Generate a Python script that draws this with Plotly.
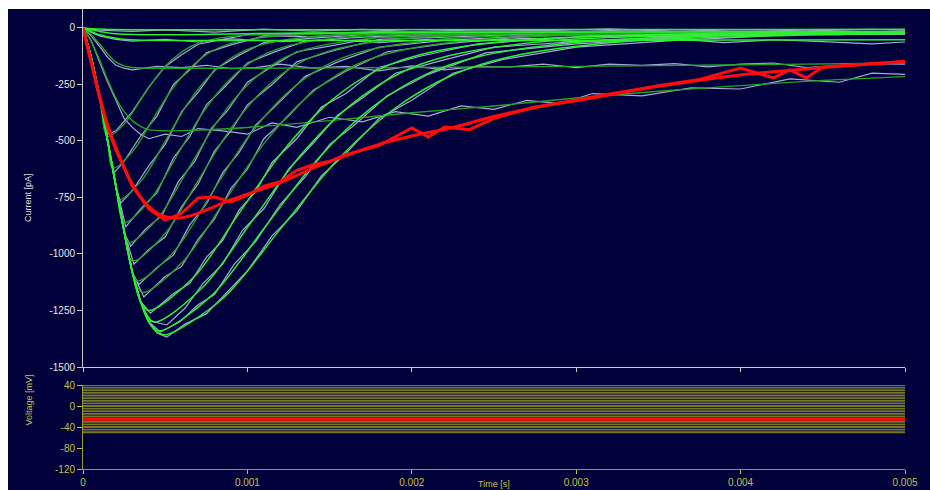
import plotly.graph_objects as go

# ---------------- current traces (time in ms, current in pA) ----------------
# fitted curves
b1_t = [0, 0.05, 0.10, 0.15, 0.25, 0.35, 0.45, 0.55, 0.65, 0.75, 0.95, 1.35, 5.0]
b1_i = [0, -130, -300, -480, -425, -319, -213, -135, -84, -57, -34, -22, -18]
b2_t = [0, 0.05, 0.10, 0.15, 0.18, 0.30, 0.42, 0.54, 0.66, 0.78, 0.90, 1.14, 1.62, 5.0]
b2_i = [0, -130, -300, -500, -620, -548, -410, -272, -170, -104, -68, -38, -23, -18]
b3_t = [0, 0.05, 0.10, 0.15, 0.20, 0.22, 0.36, 0.50, 0.64, 0.78, 0.92, 1.06, 1.34, 1.90, 5.0]
b3_i = [0, -130, -300, -500, -700, -760, -671, -501, -331, -205, -124, -79, -42, -24, -18]
b4_t = [0, 0.05, 0.10, 0.15, 0.20, 0.25, 0.41, 0.57, 0.73, 0.89, 1.05, 1.21, 1.53, 2.17, 5.0]
b4_i = [0, -130, -300, -500, -700, -860, -759, -566, -373, -230, -138, -87, -45, -24, -18]
b5_t = [0, 0.05, 0.10, 0.15, 0.20, 0.25, 0.28, 0.46, 0.64, 0.82, 1.00, 1.18, 1.36, 1.72, 2.44, 5.0]
b5_i = [0, -130, -300, -500, -700, -900, -950, -838, -624, -411, -252, -150, -94, -48, -25, -18]
b6_t = [0, 0.05, 0.10, 0.15, 0.20, 0.25, 0.30, 0.50, 0.70, 0.90, 1.10, 1.30, 1.50, 1.90, 2.70, 5.0]
b6_i = [0, -130, -300, -500, -700, -900, -1030, -909, -676, -444, -272, -161, -101, -50, -25, -18]
b7_t = [0, 0.05, 0.10, 0.15, 0.20, 0.25, 0.30, 0.33, 0.555, 0.78, 1.005, 1.23, 1.455, 1.68, 2.13, 3.03, 5.0]
b7_i = [0, -130, -300, -500, -700, -900, -1080, -1120, -988, -735, -482, -295, -174, -108, -53, -26, -18]
b8_t = [0, 0.05, 0.10, 0.15, 0.20, 0.25, 0.30, 0.36, 0.61, 0.86, 1.11, 1.36, 1.61, 1.86, 2.36, 3.36, 5.0]
b8_i = [0, -130, -300, -500, -700, -900, -1080, -1170, -1032, -767, -503, -307, -181, -112, -54, -26, -18]
b9_t = [0, 0.05, 0.10, 0.15, 0.20, 0.25, 0.30, 0.35, 0.40, 0.675, 0.95, 1.225, 1.50, 1.775, 2.05, 2.60, 3.70, 5.0]
b9_i = [0, -130, -300, -500, -700, -900, -1080, -1210, -1250, -1102, -819, -537, -327, -192, -118, -57, -26, -18]
b10_t = [0, 0.05, 0.10, 0.15, 0.20, 0.25, 0.30, 0.35, 0.43, 0.73, 1.03, 1.33, 1.63, 1.93, 2.23, 2.83, 4.03, 5.0]
b10_i = [0, -130, -300, -500, -700, -900, -1080, -1210, -1300, -1146, -852, -558, -340, -199, -122, -58, -26, -20]
b11_t = [0, 0.05, 0.10, 0.15, 0.20, 0.25, 0.30, 0.35, 0.40, 0.46, 0.785, 1.11, 1.435, 1.76, 2.085, 2.41, 3.06, 4.36, 5.0]
b11_i = [0, -130, -300, -500, -700, -900, -1080, -1210, -1300, -1340, -1182, -878, -574, -350, -205, -126, -60, -27, -22]
b12_t = [0, 0.05, 0.10, 0.15, 0.20, 0.25, 0.30, 0.35, 0.40, 0.45, 0.50, 0.85, 1.20, 1.55, 1.90, 2.25, 2.60, 3.30, 4.70, 5.0]
b12_i = [0, -130, -300, -500, -700, -900, -1080, -1210, -1300, -1345, -1358, -1197, -890, -582, -354, -207, -127, -60, -27, -25]
f1_t = [0, 0.1, 0.3, 1.0, 5.0]
f1_i = [0, -5, -8, -8, -6]
f2_t = [0, 0.1, 0.2, 0.5, 1.0, 2.0, 5.0]
f2_i = [0, -15, -25, -30, -25, -20, -15]
f3_t = [0, 0.05, 0.10, 0.20, 0.30, 0.50, 1.0, 2.0, 3.0, 4.0, 5.0]
f3_i = [0, -15, -30, -45, -52, -55, -55, -55, -55, -53, -52]
f4_t = [0, 0.05, 0.10, 0.15, 0.20, 0.25, 0.30, 0.40, 0.60, 1.0, 2.0, 3.0, 4.0, 5.0]
f4_i = [0, -30, -70, -115, -150, -168, -175, -178, -178, -178, -175, -170, -163, -155]
f5_t = [0, 0.05, 0.10, 0.15, 0.20, 0.25, 0.30, 0.35, 0.40, 0.50, 0.70, 1.0, 1.5, 2.0, 2.5, 3.0, 3.5, 4.0, 4.5, 5.0]
f5_i = [0, -60, -140, -230, -310, -370, -410, -435, -450, -455, -452, -440, -410, -375, -345, -310, -280, -255, -232, -215]

# recorded sweeps
d1_t = [0, 0.05, 0.10, 0.15, 0.20, 0.30, 0.40, 0.50, 0.60, 0.70, 0.85, 1.0, 1.3, 1.8, 2.5, 3.2, 4.0, 5.0]
d1_i = [0, -125, -310, -470, -455, -370, -262, -170, -118, -72, -50, -30, -30, -15, -28, -12, -22, -15]
d2_t = [0, 0.05, 0.10, 0.15, 0.19, 0.25, 0.35, 0.45, 0.55, 0.65, 0.75, 0.90, 1.10, 1.40, 1.80, 2.50, 3.50, 5.0]
d2_i = [0, -135, -295, -510, -640, -590, -478, -390, -250, -185, -110, -75, -35, -38, -18, -30, -15, -20]
d3_t = [0, 0.05, 0.10, 0.15, 0.20, 0.23, 0.30, 0.40, 0.50, 0.60, 0.70, 0.80, 0.95, 1.10, 1.40, 1.90, 2.60, 3.50, 5.0]
d3_i = [0, -128, -305, -495, -705, -775, -720, -610, -515, -370, -285, -185, -120, -65, -45, -20, -32, -15, -22]
d4_t = [0, 0.05, 0.10, 0.15, 0.20, 0.26, 0.35, 0.45, 0.55, 0.65, 0.75, 0.85, 1.00, 1.15, 1.35, 1.70, 2.30, 3.20, 4.2, 5.0]
d4_i = [0, -132, -298, -505, -695, -880, -800, -730, -575, -480, -340, -270, -155, -110, -58, -40, -22, -35, -15, -20]
d5_t = [0, 0.05, 0.10, 0.15, 0.20, 0.25, 0.29, 0.38, 0.48, 0.58, 0.68, 0.78, 0.88, 1.00, 1.15, 1.30, 1.50, 1.80, 2.40, 3.20, 4.20, 5.0]
d5_i = [0, -130, -302, -498, -702, -905, -965, -890, -830, -680, -590, -445, -365, -240, -170, -105, -80, -40, -30, -20, -30, -18]
d6_t = [0, 0.05, 0.10, 0.15, 0.20, 0.25, 0.31, 0.40, 0.50, 0.60, 0.70, 0.80, 0.90, 1.00, 1.15, 1.30, 1.50, 1.80, 2.20, 3.00, 4.00, 5.0]
d6_i = [0, -128, -300, -502, -698, -902, -1045, -980, -925, -790, -690, -545, -455, -340, -250, -150, -105, -50, -40, -20, -30, -18]
d7_t = [0, 0.05, 0.10, 0.15, 0.20, 0.25, 0.30, 0.34, 0.45, 0.55, 0.65, 0.75, 0.85, 0.95, 1.05, 1.20, 1.35, 1.55, 1.80, 2.20, 3.00, 4.00, 5.0]
d7_i = [0, -130, -300, -500, -700, -900, -1082, -1135, -1060, -1005, -870, -780, -640, -550, -430, -325, -215, -150, -85, -55, -25, -35, -18]
d8_t = [0, 0.05, 0.10, 0.15, 0.20, 0.25, 0.30, 0.37, 0.50, 0.60, 0.70, 0.80, 0.90, 1.00, 1.10, 1.25, 1.40, 1.60, 1.85, 2.20, 2.80, 3.60, 4.50, 5.0]
d8_i = [0, -130, -300, -500, -700, -900, -1080, -1190, -1100, -1055, -935, -845, -710, -625, -490, -390, -275, -190, -105, -70, -30, -38, -20, -18]
d9_t = [0, 0.05, 0.10, 0.15, 0.20, 0.25, 0.30, 0.35, 0.41, 0.55, 0.65, 0.75, 0.85, 0.95, 1.05, 1.15, 1.30, 1.45, 1.60, 1.80, 2.05, 2.40, 3.00, 3.80, 4.60, 5.0]
d9_i = [0, -130, -300, -500, -700, -900, -1080, -1210, -1262, -1175, -1130, -1015, -940, -805, -725, -595, -490, -350, -290, -175, -125, -70, -40, -25, -30, -20]
d10_t = [0, 0.05, 0.10, 0.15, 0.20, 0.25, 0.30, 0.35, 0.40, 0.51, 0.62, 0.73, 0.85, 0.97, 1.10, 1.25, 1.40, 1.55, 1.70, 1.90, 2.15, 2.50, 3.10, 4.00, 5.0]
d10_i = [0, -130, -300, -500, -700, -900, -1080, -1210, -1295, -1314, -1240, -1130, -1045, -895, -800, -625, -510, -385, -310, -200, -150, -85, -55, -30, -22]
d11_t = [0, 0.05, 0.10, 0.15, 0.20, 0.25, 0.30, 0.35, 0.40, 0.47, 0.59, 0.70, 0.80, 0.92, 1.05, 1.20, 1.35, 1.50, 1.65, 1.85, 2.10, 2.45, 3.00, 3.80, 4.60, 5.0]
d11_i = [0, -130, -300, -500, -700, -900, -1080, -1210, -1300, -1345, -1300, -1225, -1180, -1045, -945, -780, -660, -515, -430, -300, -205, -110, -70, -35, -25, -22]
d12_t = [0, 0.05, 0.10, 0.15, 0.20, 0.25, 0.30, 0.35, 0.40, 0.45, 0.51, 0.62, 0.75, 0.88, 1.00, 1.15, 1.30, 1.45, 1.60, 1.80, 2.00, 2.25, 2.55, 3.00, 3.60, 4.30, 5.0]
d12_i = [0, -130, -300, -500, -700, -900, -1080, -1210, -1300, -1350, -1368, -1310, -1265, -1165, -1075, -920, -810, -655, -555, -400, -320, -200, -140, -85, -55, -30, -28]
e1_t = [0, 0.1, 0.3, 0.5, 0.8, 1.1, 1.4, 1.7, 2.0, 2.4, 2.8, 3.2, 3.6, 4.0, 4.4, 4.8, 5.0]
e1_i = [0, -10, -15, -8, -18, -5, -14, -6, -16, -8, -12, -4, -15, -7, -13, -6, -10]
e3_t = [0, 0.05, 0.1, 0.2, 0.3, 0.5, 0.7, 0.9, 1.2, 1.5, 1.8, 2.1, 2.4, 2.7, 3.0, 3.3, 3.6, 3.9, 4.2, 4.5, 4.8, 5.0]
e3_i = [0, -20, -35, -50, -58, -50, -62, -48, -60, -52, -65, -50, -58, -45, -62, -55, -48, -65, -52, -60, -70, -62]
e4_t = [0, 0.05, 0.1, 0.15, 0.2, 0.25, 0.3, 0.45, 0.6, 0.75, 0.9, 1.05, 1.2, 1.4, 1.6, 1.8, 2.0, 2.2, 2.4, 2.6,
        2.8, 3.0, 3.2, 3.4, 3.6, 3.8, 4.0, 4.2, 4.4, 4.6, 4.8, 5.0]
e4_i = [0, -35, -80, -130, -165, -178, -185, -170, -175, -165, -180, -175, -160, -178, -170, -190, -168, -185, -170, -172,
        -160, -175, -160, -165, -158, -172, -160, -155, -175, -165, -158, -160]
e5_t = [0, 0.05, 0.1, 0.15, 0.2, 0.25, 0.3, 0.35, 0.4, 0.5, 0.6, 0.7, 0.85, 1.0, 1.15, 1.3, 1.5, 1.7, 1.9, 2.1,
        2.3, 2.5, 2.7, 2.9, 3.1, 3.4, 3.7, 4.0, 4.3, 4.6, 4.8, 5.0]
e5_i = [0, -55, -150, -240, -320, -400, -440, -470, -490, -470, -480, -445, -455, -470, -420, -440, -395, -415, -370, -390,
        -345, -360, -320, -335, -290, -300, -265, -270, -225, -240, -200, -205]

# highlighted sweep (fit and recording)
red_fit_t = [0, 0.05, 0.1, 0.15, 0.2, 0.3, 0.4, 0.5, 0.6, 0.7, 0.8, 0.9, 1.0, 1.2, 1.4, 1.6, 1.8, 2.0, 2.25, 2.5,
             2.75, 3.0, 3.5, 4.0, 4.5, 5.0]
red_fit_i = [0, -150, -300, -430, -530, -690, -790, -835, -840, -820, -790, -760, -735, -685, -620, -565, -515, -478, -440, -392,
             -352, -318, -258, -208, -175, -148]
red_rec_t = [0, 0.05, 0.1, 0.15, 0.2, 0.3, 0.4, 0.5, 0.6, 0.7, 0.8, 0.9, 1.0, 1.1, 1.2, 1.3, 1.4, 1.5, 1.6, 1.8,
             2.0, 2.1, 2.2, 2.35, 2.5, 2.75, 3.0, 3.25, 3.5, 3.75, 4.0, 4.2, 4.3, 4.4, 4.5, 4.75, 5.0]
red_rec_i = [0, -155, -305, -440, -540, -700, -800, -850, -820, -752, -748, -770, -740, -700, -680, -630, -605, -590, -560, -520,
             -442, -482, -438, -450, -400, -350, -322, -290, -255, -228, -177, -221, -186, -221, -173, -160, -148]

# ---------------- voltage protocol (mV) ----------------
volt_steps = [-50, -45, -40, -35, -30, -25, -20, -15, -10, -5, 0, 5, 10, 15, 20, 25, 30, 35, 40]
volt_red = -25
t_end_ms = 5.0

current_ticks = [0, -250, -500, -750, -1000, -1250, -1500]
current_labels = ["0", "-250", "-500", "-750", "-1000", "-1250", "-1500"]
voltage_ticks = [40, 0, -40, -80, -120]
voltage_labels = ["40", "0", "-40", "-80", "-120"]
time_ticks = [0, 0.001, 0.002, 0.003, 0.004, 0.005]
time_labels = ["0", "0.001", "0.002", "0.003", "0.004", "0.005"]

BG = "#00003a"
LAV = "#a8a8d8"
GREEN = "#22a322"
BRIGHT = "#2cf02c"
RED = "#ff0c0c"
OLIVE_LINE = "#77772b"
OLIVE_AXIS = "#9a9a36"
OLIVE_TXT = "#c0c04a"
AXIS_W = "#c8c8c8"
FONT = "Liberation Sans, Arial, sans-serif"


def sec(ms_list):
    return [v / 1000.0 for v in ms_list]


fig = go.Figure()


def add_current(t, i, color, width, shape="linear"):
    fig.add_trace(go.Scatter(x=sec(t), y=i, mode="lines", xaxis="x", yaxis="y",
                             line=dict(color=color, width=width, shape=shape, smoothing=0.9),
                             hoverinfo="skip", showlegend=False))


recordings = [(e1_t, e1_i), (e3_t, e3_i), (e4_t, e4_i), (e5_t, e5_i),
              (d1_t, d1_i), (d2_t, d2_i), (d3_t, d3_i), (d4_t, d4_i), (d5_t, d5_i), (d6_t, d6_i),
              (d7_t, d7_i), (d8_t, d8_i), (d9_t, d9_i), (d10_t, d10_i), (d11_t, d11_i), (d12_t, d12_i)]
for t, i in recordings:
    add_current(t, i, LAV, 1.2)

fits_mid = [(f5_t, f5_i), (f4_t, f4_i), (b1_t, b1_i), (b2_t, b2_i), (b3_t, b3_i), (b4_t, b4_i),
            (b5_t, b5_i), (b6_t, b6_i), (b7_t, b7_i), (b8_t, b8_i)]
for t, i in fits_mid:
    add_current(t, i, GREEN, 1.4, "spline")

fits_bright = [(b9_t, b9_i), (b10_t, b10_i), (b11_t, b11_i), (b12_t, b12_i),
               (f3_t, f3_i), (f2_t, f2_i), (f1_t, f1_i)]
for t, i in fits_bright:
    add_current(t, i, BRIGHT, 1.5, "spline")

add_current(red_rec_t, red_rec_i, RED, 3)
add_current(red_fit_t, red_fit_i, RED, 3, "spline")

# voltage steps
for v in volt_steps:
    fig.add_trace(go.Scatter(x=sec([0, t_end_ms]), y=[v, v], mode="lines", xaxis="x2", yaxis="y2",
                             line=dict(color=OLIVE_LINE, width=1.8), hoverinfo="skip", showlegend=False))
fig.add_trace(go.Scatter(x=sec([0, t_end_ms]), y=[volt_red, volt_red], mode="lines", xaxis="x2", yaxis="y2",
                         line=dict(color=RED, width=3), hoverinfo="skip", showlegend=False))

W, H = 930, 490
ML, MR, MT, MB = 83, 25, 9, 21
PW, PH = W - ML - MR, H - MT - MB
top_dom = [(469 - 367) / PH, 1.0]
bot_dom = [0.0, (469 - 385) / PH]

common_x = dict(range=[0, 0.005], showgrid=False, zeroline=False, showline=True, ticks="outside",
                tickvals=time_ticks, ticktext=time_labels, ticklen=4, tickwidth=1, automargin=False)

fig.update_layout(
    width=W, height=H,
    margin=dict(l=ML, r=MR, t=MT, b=MB, pad=0),
    paper_bgcolor=BG, plot_bgcolor=BG,
    font=dict(family=FONT, size=10),
    xaxis=dict(common_x, anchor="y", domain=[0, 1], showticklabels=False,
               linecolor=AXIS_W, tickcolor=AXIS_W),
    yaxis=dict(domain=top_dom, anchor="x", range=[-1500, 84], tickvals=current_ticks, ticktext=current_labels,
               showgrid=False, zeroline=False, showline=True, linecolor=AXIS_W, ticks="outside",
               ticklen=5, tickcolor=AXIS_W, tickfont=dict(color="#e8e8e8", size=10), automargin=False),
    xaxis2=dict(common_x, anchor="y2", domain=[0, 1], linecolor=OLIVE_AXIS, tickcolor=OLIVE_TXT,
                tickfont=dict(color=OLIVE_TXT, size=10)),
    yaxis2=dict(domain=bot_dom, anchor="x2", range=[-120, 40], tickvals=voltage_ticks, ticktext=voltage_labels,
                showgrid=False, zeroline=False, showline=True, linecolor=OLIVE_AXIS, ticks="outside",
                ticklen=5, tickcolor=OLIVE_TXT, tickfont=dict(color=OLIVE_TXT, size=10), automargin=False),
    annotations=[
        dict(text="Current [pA]", textangle=-90, x=(21 - ML) / PW, y=(469 - 197) / PH,
             xref="paper", yref="paper", showarrow=False, font=dict(color="#e0e0e0", size=9)),
        dict(text="Voltage [mV]", textangle=-90, x=(21 - ML) / PW, y=(469 - 427) / PH,
             xref="paper", yref="paper", showarrow=False, font=dict(color=OLIVE_TXT, size=9)),
        dict(text="Time [s]", x=0.5, y=-(484 - 469) / PH, xref="paper", yref="paper",
             showarrow=False, font=dict(color=OLIVE_TXT, size=9), yanchor="middle"),
    ],
    shapes=[
        dict(type="rect", xref="paper", yref="paper", x0=-ML / PW, x1=(W - ML) / PW,
             y0=1.0, y1=1 + MT / PH, fillcolor="white", line=dict(width=0), layer="above"),
        dict(type="rect", xref="paper", yref="paper", x0=-ML / PW, x1=(8 - ML) / PW,
             y0=-MB / PH, y1=1 + MT / PH, fillcolor="white", line=dict(width=0), layer="above"),
    ],
)

fig.write_html("out.html")
